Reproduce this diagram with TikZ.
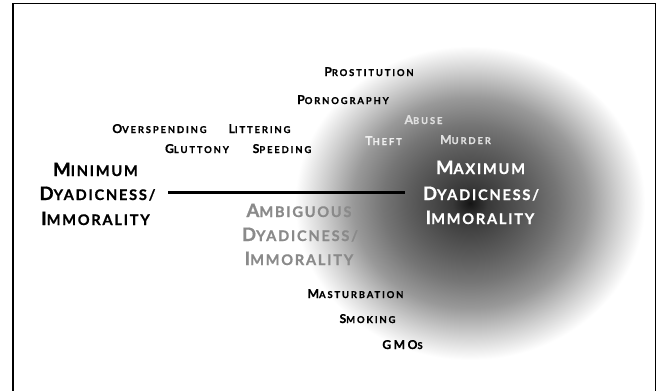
\documentclass[tikz,border=0pt]{standalone}
\usepackage{fontspec}
\setmainfont{Lato}
\newfontfamily\labfont[LetterSpace=12, BoldFeatures={FakeBold=0.8}]{Lato}
\newfontfamily\smallfont[LetterSpace=20, BoldFeatures={FakeBold=0.8}]{Lato}
\newcommand\smcS[2]{{\fontsize{12.2}{12}\selectfont #1}{\fontsize{9.4}{9}\selectfont #2}}
\newcommand\smcL[2]{{\fontsize{18.5}{18}\selectfont #1}{\fontsize{14.6}{14}\selectfont #2}}
\pgfdeclareradialshading{blob}{\pgfpoint{0bp}{0bp}}{color(0bp)=(black!92); color(2.5bp)=(black!78); color(9bp)=(black!63); color(12.5bp)=(black!54); color(16.75bp)=(black!40); color(21bp)=(black!19); color(25bp)=(white); color(50bp)=(white)}
\definecolor{ambgray}{gray}{0.54}
\definecolor{lightA}{gray}{0.88}
\definecolor{lightT}{gray}{0.94}
\tikzset{
  lab/.style={inner sep=0pt, anchor=base, font=\labfont\bfseries},
  small/.style={inner sep=0pt, anchor=base, font=\smallfont\bfseries, text=black},
  big/.style={lab, text=black},
  maxlab/.style={lab, text=white},
  amblab/.style={lab, text=ambgray},
  frame/.style={line width=1pt},
  axis/.style={line width=2.6pt}
}
\begin{document}
\begin{tikzpicture}[x=1pt,y=-1pt]
\useasboundingbox (0,0) rectangle (657,391);
\fill[white] (0,0) rectangle (657,391);
% shaded region
\shade[shading=blob] (470,203) ellipse [x radius=175pt, y radius=157pt];
% frame
\draw[frame, line width=1.6pt] (13,391) -- (13,3);
\draw[frame] (13,3) -- (655,3) -- (655,391);
% axis line
\coordinate (lineL) at (168,192.7);
\coordinate (lineR) at (405,192.7);
\draw[axis] (lineL) -- (lineR);
% small labels
\node[small] (prost) at (369,76) {\smcS{P}{ROSTITUTION}};
\node[small] (porn) at (343,104) {\smcS{P}{ORNOGRAPHY}};
\node[small, text=lightA] (abuse) at (423.5,124) {\smcS{A}{BUSE}};
\node[small] (oversp) at (159.5,133) {\smcS{O}{VERSPENDING}};
\node[small] (litter) at (259.5,133) {\smcS{L}{ITTERING}};
\node[small, text=lightT] (theft) at (383.5,145) {\smcS{T}{HEFT}};
\node[small, text=lightA] (murder) at (465.5,144) {\smcS{M}{URDER}};
\node[small] (glut) at (197,153) {\smcS{G}{LUTTONY}};
\node[small] (speed) at (282,153) {\smcS{S}{PEEDING}};
\node[small] (mast) at (355.5,298) {\smcS{M}{ASTURBATION}};
\node[small] (smok) at (367.5,323) {\smcS{S}{MOKING}};
\node[small] (gmos) at (402.5,349) {\smcS{GMO}{S}};
% big labels
\node[big] (minA) at (95.5,176) {\smcL{M}{INIMUM}};
\node[big] (minB) at (97.5,200) {\smcL{D}{YADICNESS/}};
\node[big] (minC) at (95.5,225) {\smcL{I}{MMORALITY}};
\node[maxlab] (maxA) at (480.5,174) {\smcL{M}{AXIMUM}};
\node[maxlab] (maxB) at (481,200) {\smcL{D}{YADICNESS/}};
\node[maxlab] (maxC) at (480,224) {\smcL{I}{MMORALITY}};
\node[amblab] (ambA) at (299,217) {\smcL{A}{MBIGUOUS}};
\node[amblab] (ambB) at (300,241) {\smcL{D}{YADICNESS/}};
\node[amblab] (ambC) at (299,265) {\smcL{I}{MMORALITY}};
\end{tikzpicture}
\end{document}
